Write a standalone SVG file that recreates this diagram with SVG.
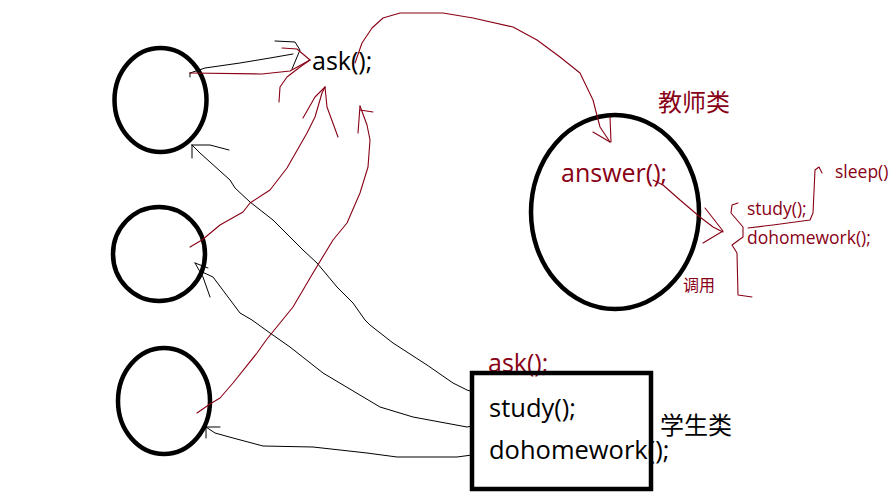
<svg xmlns="http://www.w3.org/2000/svg" width="895" height="504" viewBox="0 0 895 504">
<style>
.shape{fill:none;stroke:#000;stroke-width:4.5}
.k{fill:none;stroke:#000;stroke-width:1;stroke-linejoin:round;stroke-linecap:round}
.r{fill:none;stroke:#880015;stroke-width:1.1;stroke-linejoin:round;stroke-linecap:round}
.big{font-family:"Open Sans","Noto Sans CJK SC",sans-serif;font-size:25px}
.small{font-family:"Open Sans","Noto Sans CJK SC",sans-serif;font-size:17.5px}
.cjk{font-family:"Noto Sans CJK SC",sans-serif;font-size:24px}
.red{fill:#880015}
.blk{fill:#000}
</style>
<rect width="895" height="504" fill="#fff"/>
<g id="obj1"><ellipse class="shape" cx="160.5" cy="100" rx="46" ry="52"/></g>
<g id="obj2"><ellipse class="shape" cx="159" cy="254" rx="46" ry="47"/></g>
<g id="obj3"><ellipse class="shape" cx="164" cy="401" rx="46" ry="53"/></g>
<g id="ask-label"><text class="big blk" x="312" y="70">ask();</text></g>
<g id="teacher">
<ellipse class="shape" cx="615" cy="212" rx="84" ry="97"/>
<text class="cjk red" x="658" y="111">教师类</text>
<text class="big red" x="561" y="182">answer();</text>
</g>
<g id="calls">
<text class="small red" x="835" y="178">sleep()</text>
<text class="small red" x="747" y="215">study();</text>
<text class="small red" x="747" y="244">dohomework();</text>
<text class="red" x="683" y="291" style="font-family:'Noto Sans CJK SC',sans-serif;font-size:16px">调用</text>
</g>
<g id="student">
<text class="big red" x="488" y="372">ask();</text>
<rect class="shape" x="472" y="373" width="179" height="116"/>
<text class="big blk" x="489" y="417" style="font-size:25.5px">study();</text>
<text class="big blk" x="489" y="459" style="font-size:25.5px">dohomework();</text>
<text class="cjk blk" x="660" y="434">学生类</text>
</g>
<g id="connectors">
<polyline class="k" points="190,73 205,68 240,63 270,58 293,54"/>
<polyline class="k" points="275,41 295,42 300,50 292,69"/>
<polyline class="k" points="190,73 190,77"/>
<polyline class="k" points="473,392 467,390 453,383 427,365 393,343 370,325 365,320 353,303 337,287 317,263 303,250 273,220 250,202 235,188 230,180 200,153 192,145"/>
<polyline class="k" points="192,145 210,145 229,150"/>
<polyline class="k" points="192,145 192,158"/>
<polyline class="k" points="472,426 467,427 413,417 380,407 323,373 290,347 270,333 252,320 240,313 213,277 200,271"/>
<polyline class="k" points="195,263 208,268"/>
<polyline class="k" points="195,263 203,277 210,297"/>
<polyline class="k" points="472,455 457,457 397,457 367,453 313,447 263,446 233,438 215,433 206,427"/>
<polyline class="k" points="206,427 220,427"/>
<polyline class="k" points="206,424 206,438"/>
<polyline class="r" points="190,73 262,74 290,71 310,60"/>
<polyline class="r" points="282,48 297,49 310,60"/>
<polyline class="r" points="310,60 300,67 287,77 280,87 279,102"/>
<polyline class="r" points="190,247 202,240 220,225 243,212 250,203 270,190 287,168 303,140 307,133 315,117 322,93 325,87"/>
<polyline class="r" points="325,87 315,97 303,118"/>
<polyline class="r" points="325,87 327,107 338,137"/>
<polyline class="r" points="197,413 210,404 220,398 233,383 257,353 267,339 280,323 293,307 313,273 333,240 347,223 360,193 368,167 370,140 367,125 360,106"/>
<polyline class="r" points="360,110 373,112"/>
<polyline class="r" points="360,106 358,133"/>
<polyline class="r" points="355,63 362,43 372,28 383,18 400,13 443,13 473,18 513,27 537,40 560,57 580,73 593,100 600,127 610,142"/>
<polyline class="r" points="593,132 610,142"/>
<polyline class="r" points="610,117 611,142"/>
<polyline class="r" points="653,180 663,185 680,200 700,217 713,227 723,232"/>
<polyline class="r" points="705,208 723,231 703,243"/>
<polyline class="r" points="738,203 732,205 731,213 743,227 743,237 732,245 737,253 738,295 752,297"/>
<polyline class="r" points="748,228 773,225 810,220 813,213 815,170 819,167 822,173"/>
</g>
</svg>
